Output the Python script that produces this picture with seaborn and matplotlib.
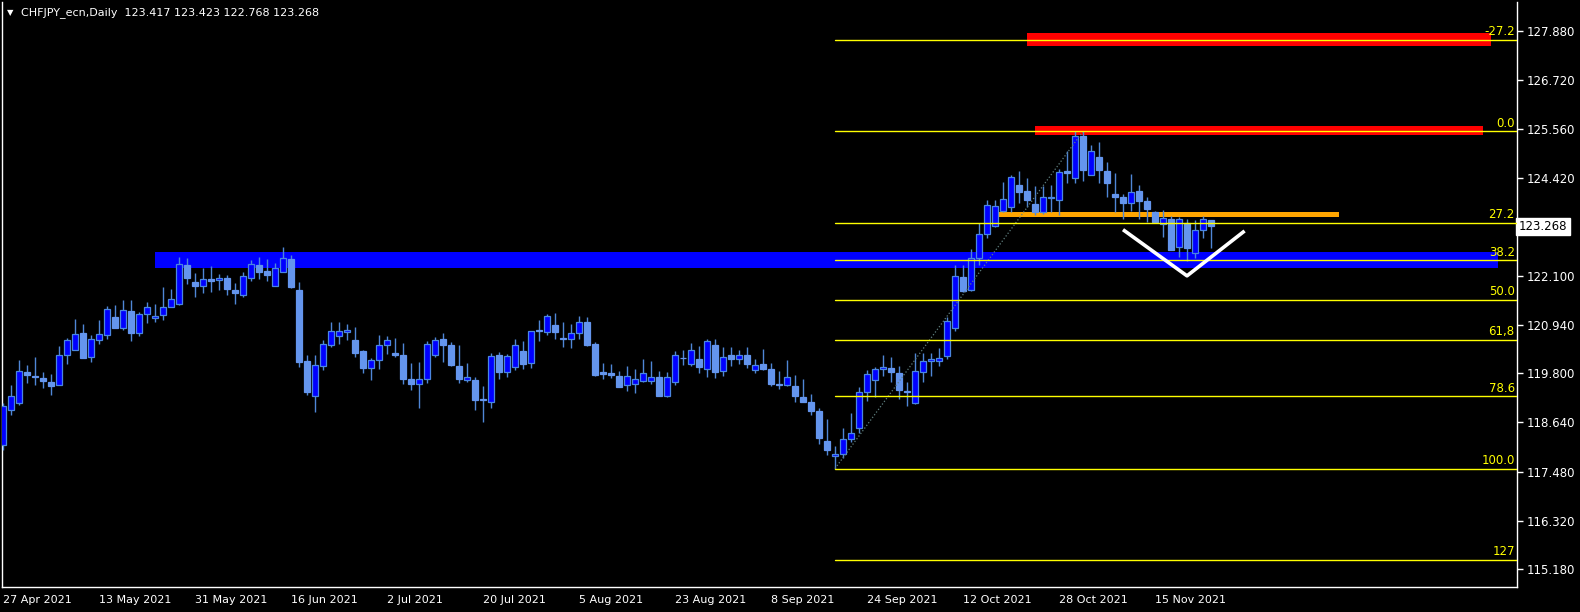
import numpy as np
import pandas as pd
import matplotlib
matplotlib.use("Agg")
import matplotlib.pyplot as plt
import matplotlib.transforms as mtransforms
import seaborn as sns

#### DATA

chart_title = "CHFJPY_ecn,Daily  123.417 123.423 122.768 123.268"
last_price = 123.268

opens = [118.10, 118.93, 119.10, 119.84, 119.74, 119.69, 119.60, 119.52, 120.23, 120.34,
         120.76, 120.18, 120.58, 120.70, 121.13, 120.86, 121.28, 120.74, 121.19, 121.10,
         121.17, 121.36, 121.43, 122.35, 121.96, 121.85, 122.03, 122.00, 122.05, 121.76,
         121.64, 122.06, 122.36, 122.22, 121.87, 122.19, 122.50, 121.76, 120.10, 119.26,
         119.97, 120.47, 120.68, 120.77, 120.58, 120.33, 119.92, 120.11, 120.47, 120.29,
         120.24, 119.67, 119.54, 119.66, 120.23, 120.61, 120.47, 119.98, 119.64, 119.63,
         119.18, 119.12, 120.22, 119.83, 119.94, 120.33, 120.04, 120.82, 120.77, 120.95,
         120.62, 120.61, 120.75, 121.01, 120.50, 119.83, 119.81, 119.74, 119.52, 119.55,
         119.62, 119.62, 119.71, 119.26, 119.59, 120.17, 120.02, 120.14, 119.89, 120.47,
         119.85, 120.22, 120.14, 120.24, 119.87, 120.03, 119.89, 119.53, 119.52, 119.51,
         119.25, 119.13, 118.92, 118.19, 117.85, 117.90, 118.25, 118.50, 119.36, 119.64,
         119.90, 119.93, 119.81, 119.37, 119.09, 119.84, 120.10, 120.09, 120.20, 120.86,
         122.07, 121.76, 122.51, 123.08, 123.27, 123.64, 123.72, 124.24, 124.11, 123.80,
         123.60, 123.93, 123.90, 124.58, 124.41, 125.40, 124.49, 124.90, 124.58, 124.04,
         123.96, 123.82, 124.11, 123.87, 123.60, 123.32, 123.45, 122.77, 123.34, 122.65,
         123.18, 123.417]
highs = [119.10, 119.53, 120.12, 120.00, 120.19, 119.84, 119.78, 120.45, 120.64, 121.09,
         120.97, 120.71, 121.06, 121.38, 121.42, 121.54, 121.54, 121.25, 121.49, 121.44,
         121.84, 121.79, 122.54, 122.52, 122.17, 122.28, 122.33, 122.15, 122.13, 121.94,
         122.20, 122.48, 122.55, 122.50, 122.41, 122.79, 122.60, 121.96, 120.24, 120.22,
         120.58, 121.01, 121.01, 120.97, 120.90, 120.36, 120.15, 120.71, 120.69, 120.64,
         120.51, 120.04, 120.07, 120.56, 120.66, 120.76, 120.53, 120.47, 120.05, 119.71,
         119.51, 120.29, 120.31, 120.26, 120.62, 120.57, 120.80, 121.06, 121.21, 121.23,
         121.02, 120.97, 121.16, 121.14, 120.54, 120.04, 120.02, 119.85, 119.98, 119.89,
         120.14, 120.10, 119.86, 119.84, 120.33, 120.36, 120.52, 120.45, 120.62, 120.62,
         120.43, 120.43, 120.34, 120.43, 120.14, 120.38, 120.04, 119.86, 120.12, 119.77,
         119.67, 119.30, 118.98, 118.71, 118.09, 118.51, 118.86, 119.47, 119.87, 119.95,
         120.24, 120.18, 119.96, 119.59, 120.28, 120.28, 120.28, 120.40, 121.14, 122.35,
         122.35, 122.74, 123.34, 123.89, 123.89, 124.32, 124.47, 124.58, 124.41, 124.22,
         124.21, 124.25, 124.62, 125.05, 125.51, 125.51, 125.18, 125.25, 124.79, 124.53,
         124.04, 124.51, 124.25, 123.96, 123.62, 123.66, 123.52, 123.50, 123.45, 123.42,
         123.51, 123.423]
lows = [118.00, 118.82, 119.05, 119.58, 119.53, 119.45, 119.28, 119.52, 120.03, 120.34,
        120.15, 120.06, 120.48, 120.62, 120.86, 120.83, 120.55, 120.67, 120.98, 121.00,
        121.05, 121.36, 121.40, 121.91, 121.59, 121.69, 121.73, 121.76, 121.65, 121.44,
        121.61, 121.99, 122.03, 121.97, 121.85, 122.19, 121.81, 119.95, 119.28, 118.88,
        119.87, 120.41, 120.48, 120.59, 120.18, 119.80, 119.63, 119.91, 120.25, 120.18,
        119.55, 119.40, 118.99, 119.56, 120.18, 120.06, 119.96, 119.57, 119.59, 118.93,
        118.64, 118.99, 119.66, 119.70, 119.87, 119.89, 119.92, 120.55, 120.70, 120.60,
        120.41, 120.39, 120.62, 120.44, 119.74, 119.66, 119.68, 119.47, 119.37, 119.34,
        119.59, 119.55, 119.26, 119.25, 119.52, 119.99, 119.96, 119.80, 119.70, 119.68,
        119.73, 119.96, 120.01, 119.93, 119.81, 119.87, 119.51, 119.44, 119.51, 119.13,
        119.11, 118.82, 118.12, 117.86, 117.55, 117.80, 118.17, 118.39, 119.15, 119.23,
        119.74, 119.60, 119.19, 119.02, 119.07, 119.60, 119.74, 119.96, 120.14, 120.80,
        121.71, 121.75, 122.36, 122.99, 123.25, 123.61, 123.61, 123.82, 123.72, 123.54,
        123.57, 123.60, 123.53, 124.29, 124.30, 124.33, 124.48, 124.29, 123.95, 123.60,
        123.44, 123.64, 123.45, 123.38, 123.37, 123.01, 122.72, 122.55, 122.44, 122.51,
        123.00, 122.768]
closes = [119.02, 119.26, 119.85, 119.75, 119.70, 119.61, 119.51, 120.23, 120.58, 120.73,
          120.17, 120.61, 120.73, 121.32, 120.88, 121.29, 120.76, 121.21, 121.37, 121.16,
          121.37, 121.56, 122.38, 122.06, 121.87, 122.02, 121.99, 122.05, 121.80, 121.69,
          122.09, 122.38, 122.20, 122.13, 122.28, 122.52, 121.83, 120.06, 119.35, 120.00,
          120.49, 120.80, 120.80, 120.82, 120.29, 119.92, 120.11, 120.47, 120.58, 120.22,
          119.67, 119.54, 119.67, 120.49, 120.58, 120.46, 119.99, 119.66, 119.71, 119.16,
          119.17, 120.21, 119.82, 120.21, 120.47, 120.03, 120.80, 120.80, 121.16, 120.77,
          120.61, 120.75, 121.01, 120.46, 119.77, 119.79, 119.75, 119.48, 119.74, 119.67,
          119.81, 119.70, 119.26, 119.71, 120.23, 120.15, 120.35, 119.94, 120.56, 119.82,
          120.18, 120.14, 120.23, 120.03, 120.00, 119.89, 119.55, 119.52, 119.71, 119.26,
          119.11, 118.90, 118.27, 117.98, 117.90, 118.25, 118.39, 119.36, 119.78, 119.90,
          119.95, 119.82, 119.40, 119.35, 119.86, 120.10, 120.14, 120.17, 121.04, 122.09,
          121.75, 122.52, 123.08, 123.77, 123.74, 123.91, 124.43, 124.09, 123.89, 123.61,
          123.96, 123.96, 124.55, 124.52, 125.40, 124.60, 125.04, 124.59, 124.30, 123.95,
          123.83, 124.07, 123.86, 123.67, 123.38, 123.46, 122.72, 123.44, 122.75, 123.18,
          123.44, 123.268]

date_labels = ["27 Apr 2021", "13 May 2021", "31 May 2021", "16 Jun 2021", "2 Jul 2021",
               "20 Jul 2021", "5 Aug 2021", "23 Aug 2021", "8 Sep 2021", "24 Sep 2021",
               "12 Oct 2021", "28 Oct 2021", "15 Nov 2021"]
date_bars = [0, 12, 24, 36, 48, 60, 72, 84, 96, 108, 120, 132, 144]

price_ticks = [127.88, 126.72, 125.56, 124.42, 122.10, 120.94, 119.80, 118.64, 117.48, 116.32, 115.18]

# fibonacci retracement (low bar -> high bar)
fib_low, fib_high = 117.55, 125.51
fib_low_bar, fib_high_bar = 104, 135
fib_ratios = [-0.272, 0.0, 0.272, 0.382, 0.5, 0.618, 0.786, 1.0, 1.27]
fib_labels = ["-27.2", "0.0", "27.2", "38.2", "50.0", "61,8", "78.6", "100.0", "127"]

# zones: (bar from, bar to, price low, price high)
zone_start = [19, 128, 129, 124.4]
zone_end = [186.9, 186.0, 185.0, 167.0]
zone_low = [122.29, 127.53, 125.43, 123.48]
zone_high = [122.67, 127.83, 125.64, 123.61]
zone_colors = ["#0000ff", "#ff0000", "#ff0000", "#ffa500"]

# white "V" drawing
v_bars = [140, 148, 155.2]
v_prices = [123.19, 122.10, 123.16]

#### PLOT

sns.set_theme(style="dark", rc={"axes.facecolor": "black", "figure.facecolor": "black",
                                "axes.edgecolor": "white", "axes.grid": False})
plt.rcParams['font.family'] = ['DejaVu Sans']

df = pd.DataFrame({"open": opens, "high": highs, "low": lows, "close": closes})
df["bar"] = np.arange(len(df))
up = df["close"] >= df["open"]
body_lo = np.minimum(df["open"], df["close"])
body_h = np.maximum((df["close"] - df["open"]).abs(), 0.015)

fig = plt.figure(figsize=(15.8, 6.12), dpi=100)
ax = fig.add_axes([2 / 1580, 25 / 612, 1515 / 1580, 585 / 612])
ax.set_facecolor("black")

# zones in background
for x0, x1, lo, hi, c in zip(zone_start, zone_end, zone_low, zone_high, zone_colors):
    ax.fill_between([x0, x1], lo, hi, color=c, lw=0, zorder=1)

# candles
wick_col = "#4f86d6"
ax.vlines(df["bar"], df["low"], df["high"], color=wick_col, lw=1, zorder=3)
ax.bar(df["bar"][up], body_h[up], bottom=body_lo[up], width=0.65,
       color="#0000ff", edgecolor="#4a86e0", lw=0.9, zorder=4)
ax.bar(df["bar"][~up], body_h[~up], bottom=body_lo[~up], width=0.65,
       color="#6495ed", edgecolor="#6495ed", lw=0.9, zorder=4)

# fibo trend line
sns.lineplot(x=[fib_low_bar, fib_high_bar], y=[fib_low, fib_high], ax=ax,
             color="#5f7f7f", lw=0.9, linestyle=":", zorder=5)

# fibo levels
xmax = 189.25
lbl_tr = mtransforms.blended_transform_factory(ax.transAxes, ax.transData)
for r, lab in zip(fib_ratios, fib_labels):
    lvl = fib_high - r * (fib_high - fib_low)
    ax.plot([fib_low_bar, xmax], [lvl, lvl], color="#ffff00", lw=1, zorder=5)
    ax.text(0.9985, lvl + 0.04, lab, transform=lbl_tr, ha="right", va="bottom",
            color="#ffff00", fontsize=8.5, zorder=6)

# V drawing
ax.plot(v_bars, v_prices, color="white", lw=2.6, zorder=6, solid_capstyle="butt")

ax.set_xlim(-0.125, xmax)
ax.set_ylim(114.754, 128.565)

# axes
for s in ax.spines.values():
    s.set_color("white")
    s.set_linewidth(1)
ax.spines["top"].set_visible(False)

ax.set_xticks(date_bars)
ax.set_xticklabels(date_labels, ha="left", color="white", fontsize=8)
ax.yaxis.tick_right()
ax.set_yticks(price_ticks)
ax.set_yticklabels([f"{p:.3f}" for p in price_ticks], color="white", fontsize=8.5)
ax.tick_params(axis="x", direction="out", length=4, width=1, color="white", pad=1.5)
ax.tick_params(axis="y", direction="out", length=4, width=1, color="white", pad=3)

# current price label
ax.text(1.0012, last_price, f"{last_price:.3f}", transform=lbl_tr, ha="left", va="center",
        color="black", fontsize=8.5,
        bbox=dict(boxstyle="square,pad=0.2", fc="white", ec="white"))

# title
fig.text(0.0044, 0.979, "\u25bc", color="white", fontsize=6, va="center")
fig.text(0.0135, 0.979, chart_title, color="white", fontsize=8, va="center")

fig.savefig("out.png", dpi=100, facecolor="black")
